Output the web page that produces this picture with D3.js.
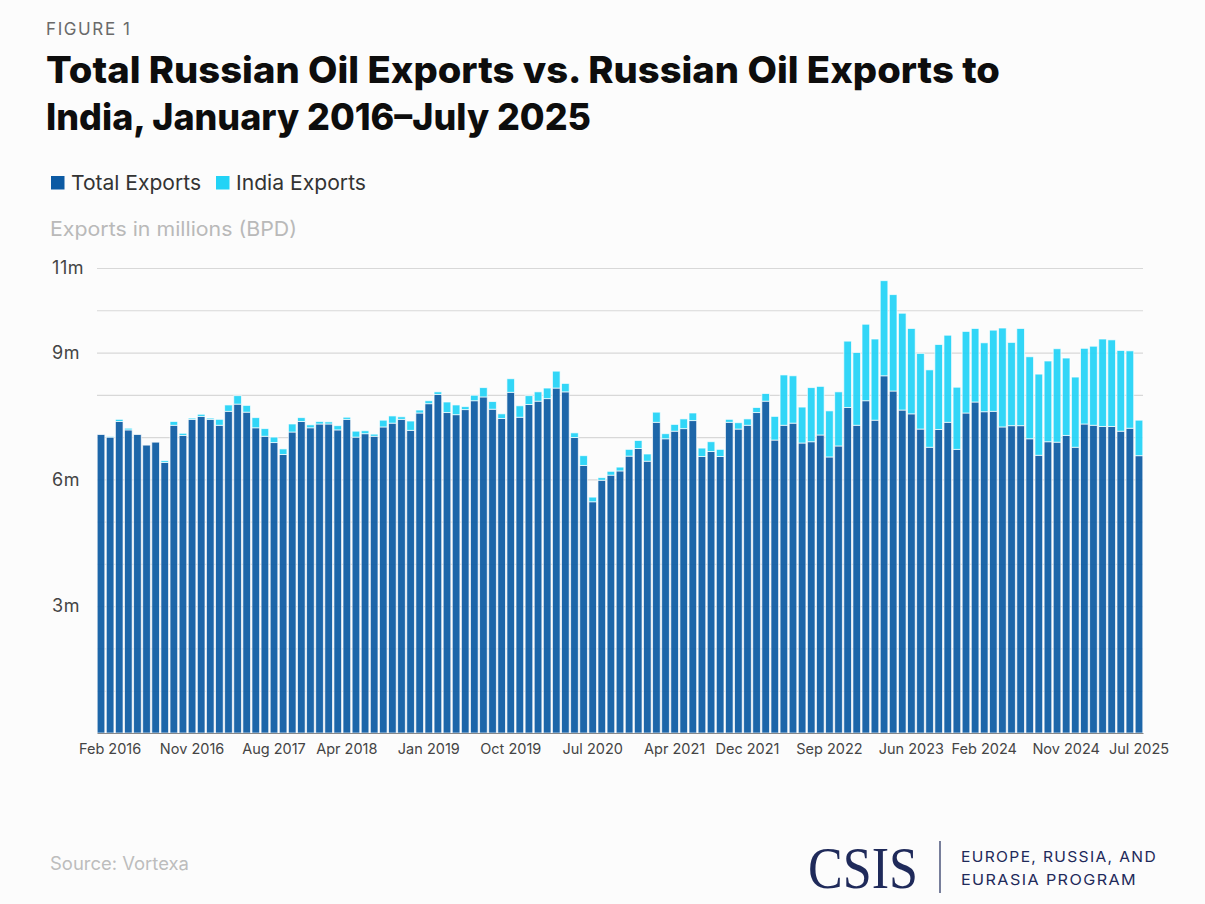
<!DOCTYPE html>
<html>
<head>
<meta charset="utf-8">
<script src="https://cdn.jsdelivr.net/npm/d3@7"></script>
<style>
  body { margin: 0; background: #fcfcfc; }
  svg { display: block; font-family: Inter, "Noto Sans", sans-serif; }
</style>
</head>
<body>
<div id="chart"></div>
<script>
// monthly exports, millions of barrels per day, Jan 2016 - Jul 2025
const totalExports = [
  7.06, 7.00, 7.37, 7.17, 7.06, 6.81, 6.88, 6.40, 7.28, 7.04,
  7.42, 7.49, 7.42, 7.28, 7.61, 7.78, 7.59, 7.22, 7.02, 6.87,
  6.59, 7.12, 7.37, 7.22, 7.31, 7.31, 7.17, 7.42, 7.00, 7.08,
  7.02, 7.24, 7.33, 7.42, 7.16, 7.57, 7.79, 8.01, 7.58, 7.53,
  7.65, 7.86, 7.95, 7.66, 7.44, 8.06, 7.47, 7.77, 7.85, 7.91,
  8.16, 8.07, 6.99, 6.33, 5.47, 5.98, 6.10, 6.20, 6.55, 6.73,
  6.43, 7.35, 6.96, 7.14, 7.20, 7.39, 6.54, 6.66, 6.54, 7.35,
  7.19, 7.28, 7.58, 7.85, 6.93, 7.28, 7.33, 6.86, 6.89, 7.05,
  6.53, 6.79, 7.70, 7.28, 7.86, 7.40, 8.45, 8.09, 7.64, 7.55,
  7.19, 6.76, 7.18, 7.35, 6.71, 7.57, 7.83, 7.60, 7.61, 7.24,
  7.27, 7.27, 6.96, 6.57, 6.89, 6.88, 7.04, 6.76, 7.31, 7.28,
  7.25, 7.25, 7.14, 7.21, 6.56
];
const indiaExports = [
  0.00, 0.02, 0.05, 0.04, 0.00, 0.00, 0.00, 0.04, 0.09, 0.05,
  0.03, 0.05, 0.03, 0.14, 0.15, 0.20, 0.16, 0.24, 0.18, 0.13,
  0.13, 0.19, 0.09, 0.07, 0.06, 0.05, 0.10, 0.05, 0.14, 0.07,
  0.05, 0.16, 0.17, 0.06, 0.22, 0.07, 0.07, 0.06, 0.25, 0.23,
  0.07, 0.13, 0.22, 0.18, 0.11, 0.32, 0.27, 0.21, 0.22, 0.25,
  0.40, 0.20, 0.11, 0.23, 0.11, 0.06, 0.09, 0.09, 0.16, 0.19,
  0.17, 0.24, 0.12, 0.16, 0.23, 0.18, 0.20, 0.23, 0.17, 0.07,
  0.15, 0.15, 0.12, 0.18, 0.56, 1.19, 1.12, 0.85, 1.28, 1.15,
  1.09, 1.28, 1.57, 1.72, 1.81, 1.92, 2.25, 2.28, 2.29, 2.02,
  1.79, 1.83, 2.01, 2.06, 1.47, 1.93, 1.74, 1.63, 1.92, 2.34,
  1.97, 2.30, 1.94, 1.92, 1.91, 2.21, 1.83, 1.66, 1.79, 1.87,
  2.07, 2.05, 1.91, 1.83, 0.84
];
const xTickLabels = ["Feb 2016", "Nov 2016", "Aug 2017", "Apr 2018", "Jan 2019", "Oct 2019",
  "Jul 2020", "Apr 2021", "Dec 2021", "Sep 2022", "Jun 2023", "Feb 2024", "Nov 2024", "Jul 2025"];
const yTickLabels = [3, 6, 9, 11];
const gridValues = [1, 2, 3, 4, 5, 6, 7, 8, 9, 10, 11];
const seriesNames = ["Total Exports", "India Exports"];

const width = 1205, height = 904;
const margin = {top: 268, right: 62, bottom: 171, left: 97};
const fmt = d3.utcFormat("%b %Y");
const months = d3.utcMonth.range(new Date(Date.UTC(2016, 0, 1)), new Date(Date.UTC(2025, 7, 1))).map(fmt);

const data = months.map((m, i) => ({month: m, total: totalExports[i], india: indiaExports[i]}));

const color = d3.scaleOrdinal().domain(seriesNames).range(["#0c5aa3", "#22d3f6"]);

const svg = d3.select("#chart").append("svg")
  .attr("width", width).attr("height", height);

const x = d3.scaleBand()
  .domain(months)
  .range([margin.left, width - margin.right])
  .paddingInner(0.16).paddingOuter(0.02);

const y = d3.scaleLinear()
  .domain([0, 11])
  .range([height - margin.bottom, margin.top]);

// header
svg.append("text").attr("x", 46).attr("y", 35)
  .style("font-size", "17px").style("letter-spacing", "1.6px").attr("fill", "#6a6a6a")
  .text("FIGURE 1");

const titleLines = ["Total Russian Oil Exports vs. Russian Oil Exports to", "India, January 2016–July 2025"];
const titleLens = [954, 545];
svg.selectAll(".title").data(titleLines).enter().append("text")
  .attr("class", "title")
  .attr("x", 46).attr("y", (d, i) => 83 + i * 47)
  .attr("textLength", (d, i) => titleLens[i]).attr("lengthAdjust", "spacingAndGlyphs")
  .style("font-size", "37px").style("font-weight", 800).attr("fill", "#0d0d0d")
  .text(d => d);

// legend
const legendX = [51, 216];
const legend = svg.selectAll(".legend").data(seriesNames).enter().append("g")
  .attr("transform", (d, i) => `translate(${legendX[i]},176)`);
legend.append("rect").attr("width", 13.5).attr("height", 13.5).attr("fill", d => color(d));
legend.append("text").attr("x", 20).attr("y", 13.5)
  .attr("textLength", 130).attr("lengthAdjust", "spacingAndGlyphs")
  .style("font-size", "20.5px").attr("fill", "#333").text(d => d);

svg.append("text").attr("x", 50).attr("y", 236)
  .attr("textLength", 247).attr("lengthAdjust", "spacingAndGlyphs")
  .style("font-size", "20px").attr("fill", "#b9b9b9")
  .text("Exports in millions (BPD)");

// gridlines
svg.append("g")
  .attr("transform", `translate(${margin.left},0)`)
  .call(d3.axisLeft(y).tickValues(gridValues).tickSize(-(width - margin.right - margin.left)).tickFormat(""))
  .call(g => g.select(".domain").remove())
  .call(g => g.selectAll("line").attr("stroke", "#d8d8d8").attr("stroke-width", 1.2));

// y labels
svg.append("g")
  .attr("transform", "translate(52,0)")
  .call(d3.axisLeft(y).tickValues(yTickLabels).tickSize(0).tickPadding(0).tickFormat(d => d + "m"))
  .call(g => g.select(".domain").remove())
  .call(g => g.selectAll("text").attr("text-anchor", "start").attr("x", 0)
    .style("font-size", "18px").style("letter-spacing", "0.6px")
    .style("font-family", "Inter, sans-serif").attr("fill", "#444"));

// stacked bars
const stack = d3.stack().keys(["total", "india"]);
const series = stack(data);
svg.append("g").selectAll("g").data(series).enter().append("g")
  .attr("fill", (s, i) => color(seriesNames[i]))
  .attr("fill-opacity", 0.93)
  .selectAll("rect").data(s => s).enter().append("rect")
  .attr("x", d => x(d.data.month))
  .attr("width", x.bandwidth())
  .attr("y", d => y(d[1]))
  .attr("height", d => Math.max(0, y(d[0]) - y(d[1])))
  .attr("stroke", "#ffffff").attr("stroke-opacity", 0.75).attr("stroke-width", 0.9);

// x axis
svg.append("g")
  .attr("transform", `translate(0,${height - margin.bottom})`)
  .call(d3.axisBottom(x).tickValues(xTickLabels).tickSize(0).tickPadding(11))
  .call(g => g.select(".domain").attr("stroke", "#888").attr("stroke-width", 1.2))
  .call(g => g.selectAll("text").style("font-size", "14.5px").style("font-family", "Inter, sans-serif").attr("fill", "#444"));

// footer
svg.append("text").attr("x", 50).attr("y", 870)
  .attr("textLength", 139).attr("lengthAdjust", "spacingAndGlyphs")
  .style("font-size", "18px").attr("fill", "#bdbdbd").text("Source: Vortexa");

const navy = "#1f2a5a";
svg.append("text").attr("x", 808).attr("y", 888)
  .attr("textLength", 110).attr("lengthAdjust", "spacingAndGlyphs")
  .style("font-family", "'Liberation Serif', serif").style("font-size", "60px").attr("fill", navy)
  .text("CSIS");
svg.append("line").attr("x1", 940).attr("x2", 940).attr("y1", 841).attr("y2", 893)
  .attr("stroke", navy).attr("stroke-width", 1.2);
const progLens = [196, 176];
svg.selectAll(".prog").data(["EUROPE, RUSSIA, AND", "EURASIA PROGRAM"]).enter().append("text")
  .attr("class", "prog")
  .attr("x", 961).attr("y", (d, i) => 862 + i * 23)
  .attr("textLength", (d, i) => progLens[i]).attr("lengthAdjust", "spacingAndGlyphs")
  .style("font-size", "15px").style("letter-spacing", "1.3px").attr("fill", navy)
  .text(d => d);
</script>
</body>
</html>
